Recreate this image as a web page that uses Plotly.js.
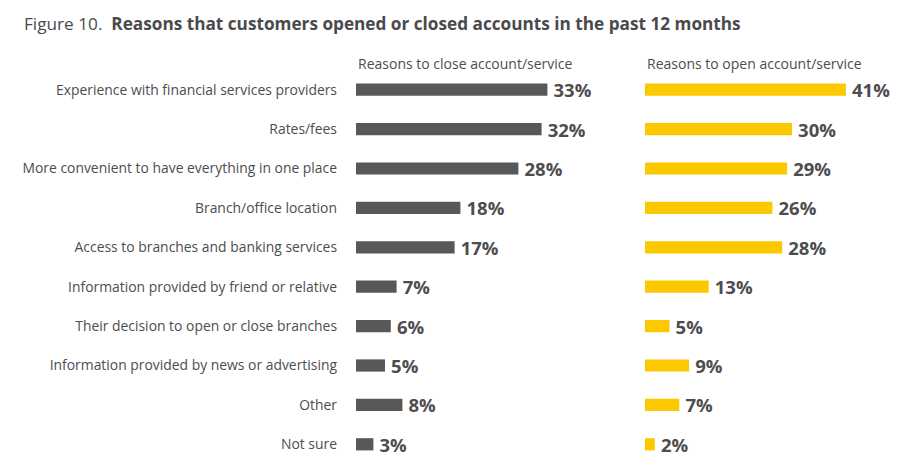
<!DOCTYPE html>
<html>
<head>
<meta charset="utf-8">
<script src="https://cdn.plot.ly/plotly-3.0.1.min.js"></script>
<style>html,body{margin:0;padding:0;background:#fff;}#chart{width:900px;height:476px;}</style>
</head>
<body>
<div id="chart"></div>
<script>
const categories = [
  "Experience with financial services providers",
  "Rates/fees",
  "More convenient to have everything in one place",
  "Branch/office location",
  "Access to branches and banking services",
  "Information provided by friend or relative",
  "Their decision to open or close branches",
  "Information provided by news or advertising",
  "Other",
  "Not sure"
];
const closeValues = [33, 32, 28, 18, 17, 7, 6, 5, 8, 3];
const openValues  = [41, 30, 29, 26, 28, 13, 5, 9, 7, 2];
const closeTitle = "Reasons to close account/service";
const openTitle = "Reasons to open account/service";
const titleLead = "Figure 10.";
const titleMain = "Reasons that customers opened or closed accounts in the past 12 months";

const W = 900;
const FONT = "Open Sans, Liberation Sans, sans-serif";
const labelFont = {family: FONT, size: 18.5, color: "#4d4d4f"};
const fmt = v => "\u2009<b>" + v + "%</b>";

const traces = [
  {
    type: "bar", orientation: "h",
    x: closeValues, y: categories,
    xaxis: "x", yaxis: "y",
    marker: {color: "#58585a"},
    width: 0.31,
    text: closeValues.map(fmt),
    textposition: "outside", cliponaxis: false, constraintext: "none",
    textfont: labelFont,
    hoverinfo: "x+y"
  },
  {
    type: "bar", orientation: "h",
    x: openValues, y: categories,
    xaxis: "x2", yaxis: "y2",
    marker: {color: "#fcc900"},
    width: 0.31,
    text: openValues.map(fmt),
    textposition: "outside", cliponaxis: false, constraintext: "none",
    textfont: labelFont,
    hoverinfo: "x+y"
  }
];

const layout = {
  width: 900, height: 476,
  margin: {l: 0, r: 0, t: 70, b: 12},
  paper_bgcolor: "#fff", plot_bgcolor: "#fff",
  showlegend: false,
  font: {family: FONT, color: "#4d4d4f"},
  xaxis: {
    domain: [356 / W, (356 + 44 * 5.8) / W],
    range: [0, 44], visible: false, fixedrange: true
  },
  xaxis2: {
    domain: [645 / W, (645 + 50 * 4.9) / W],
    range: [0, 50], visible: false, fixedrange: true
  },
  yaxis: {
    anchor: "x", type: "category", autorange: "reversed",
    showgrid: false, zeroline: false, showline: false, ticks: "",
    ticklabelstandoff: 18,
    tickfont: {family: FONT, size: 13.9, color: "#4d4d4f"}
  },
  yaxis2: {
    anchor: "x2", type: "category", autorange: "reversed",
    showgrid: false, zeroline: false, showline: false, ticks: "",
    showticklabels: false
  },
  annotations: [
    {
      xref: "paper", yref: "paper", x: 22 / W, y: 1, yshift: 47,
      xanchor: "left", yanchor: "middle", showarrow: false,
      text: titleLead + "  <b>" + titleMain + "</b>",
      font: {family: FONT, size: 17.2, color: "#4a4a4c"}
    },
    {
      xref: "paper", yref: "paper", x: 356 / W, y: 1, yshift: 7,
      xanchor: "left", yanchor: "middle", showarrow: false,
      text: closeTitle,
      font: {family: FONT, size: 14, color: "#4d4d4f"}
    },
    {
      xref: "paper", yref: "paper", x: 645 / W, y: 1, yshift: 7,
      xanchor: "left", yanchor: "middle", showarrow: false,
      text: openTitle,
      font: {family: FONT, size: 14, color: "#4d4d4f"}
    }
  ]
};

Plotly.newPlot("chart", traces, layout, {displayModeBar: false, staticPlot: true});
</script>
</body>
</html>
